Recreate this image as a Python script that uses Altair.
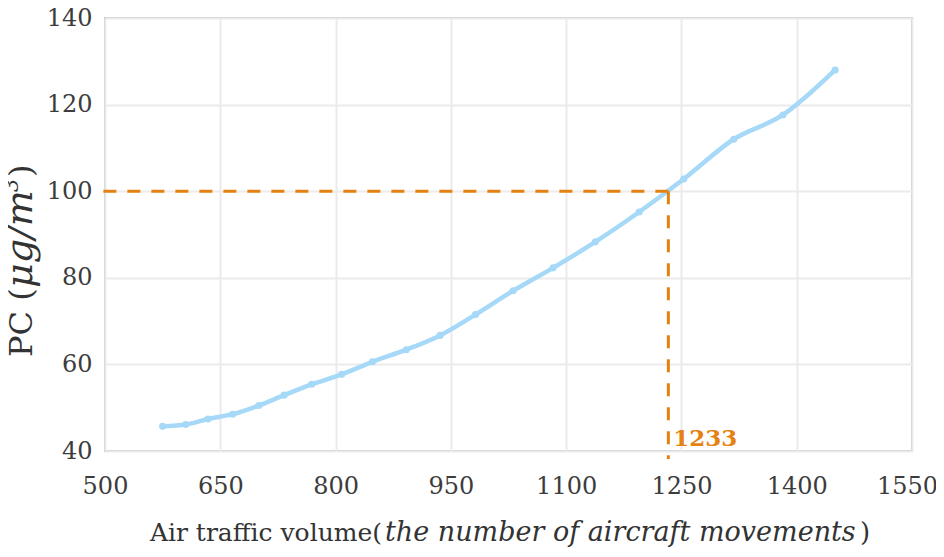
import altair as alt
import pandas as pd

# ---- data ----
traffic = [575, 605, 634, 666, 700, 733, 769, 808, 848, 892, 936, 982,
           1031, 1083, 1138, 1195, 1253, 1318, 1382, 1450]
pc = [45.7, 46.1, 47.4, 48.5, 50.5, 52.9, 55.4, 57.7, 60.6, 63.4, 66.7, 71.5,
      77.0, 82.3, 88.3, 95.2, 102.8, 112.0, 117.6, 128.0]
x_ticks = [500, 650, 800, 950, 1100, 1250, 1400, 1550]
y_ticks = [40, 60, 80, 100, 120, 140]
threshold_x = [1233]
threshold_y = [100]
threshold_label = ["1233"]

W, H = 807, 433
FONT = "DejaVu Serif"
BLUE = "#A6D8F8"
ORANGE = "#E5820F"
TXT = "#333333"
LBL = "#3c3c3c"

df = pd.DataFrame({"traffic": traffic, "pc": pc})
thr = pd.DataFrame({"x": threshold_x, "y": threshold_y, "label": threshold_label})

xs = alt.Scale(domain=[500, 1550], nice=False, zero=False)
ys = alt.Scale(domain=[40, 140], nice=False, zero=False)

xaxis = alt.Axis(values=x_ticks, title=None, labelFontSize=24, labelFont=FONT, format="d",
                 labelColor=LBL, ticks=False, tickSize=0, domain=False,
                 labelOffset={"condition": {"test": "datum.value == 1550", "value": -5}, "value": 0},
                 labelPadding=23, gridColor="#EBEBEB", gridWidth=2, labelFlush=False)
yaxis = alt.Axis(values=y_ticks, title=None, labelFontSize=24, labelFont=FONT, format="d",
                 labelColor=LBL, ticks=False, tickSize=0, domain=False,
                 labelPadding=13, gridColor="#EBEBEB", gridWidth=2)

line = alt.Chart(df).mark_line(color=BLUE, strokeWidth=4.5, interpolate="monotone").encode(
    x=alt.X("traffic:Q", scale=xs, axis=xaxis),
    y=alt.Y("pc:Q", scale=ys, axis=yaxis),
)
points = alt.Chart(df).mark_circle(color=BLUE, size=50, opacity=1).encode(
    x=alt.X("traffic:Q", scale=xs),
    y=alt.Y("pc:Q", scale=ys),
)

hrule = alt.Chart(thr).mark_rule(color=ORANGE, strokeWidth=3, strokeDash=[13, 11], clip=False).encode(
    x=alt.X("x:Q", scale=xs),
    x2=alt.value(-4),
    y=alt.Y("y:Q", scale=ys),
)
vrule = alt.Chart(thr).mark_rule(color=ORANGE, strokeWidth=3, strokeDash=[13, 11], clip=False).encode(
    x=alt.X("x:Q", scale=xs),
    y=alt.Y("y:Q", scale=ys),
    y2=alt.value(H + 8),
)
vlabel = alt.Chart(thr).mark_text(color=ORANGE, font=FONT, fontSize=23, fontWeight="bold",
                                  align="left", baseline="alphabetic", dx=5).encode(
    x=alt.X("x:Q", scale=xs),
    y=alt.value(428),
    text="label:N",
)


def txt(s, x, y, size, style="normal", angle=0, align="left"):
    return alt.Chart(pd.DataFrame({"t": [s]})).mark_text(
        font=FONT, fontSize=size, fontStyle=style, color=TXT, align=align,
        baseline="alphabetic", angle=angle,
    ).encode(x=alt.value(x), y=alt.value(y), text="t:N")


# x-axis title (mixed regular / italic)
xt1 = txt("Air traffic volume(", 277, 523, 25, align="right")
xt2 = txt("the number of aircraft movements", 280, 523, 27, "italic")
xt3 = txt(")", 755, 523, 26)

# y-axis title (rotated, mixed)
yt1 = txt("PC (", -73, 339, 32, angle=270)
yt2 = txt("\u03bcg/m", -73, 270, 38, "italic", angle=270)
yt3 = txt("3", -87, 174, 21, "italic", angle=270)
yt4 = txt(")", -73, 159, 32, angle=270)

chart = alt.layer(
    line, points, hrule, vrule, vlabel, xt1, xt2, xt3, yt1, yt2, yt3, yt4
).properties(
    width=W, height=H,
    autosize=alt.AutoSizeParams(type="none"),
    padding={"left": 97, "top": 10, "right": 24, "bottom": 98},
).configure_view(
    stroke="#BFCACA", strokeWidth=2
)

chart.save("out.html", embed_options={"renderer": "svg", "actions": False})
